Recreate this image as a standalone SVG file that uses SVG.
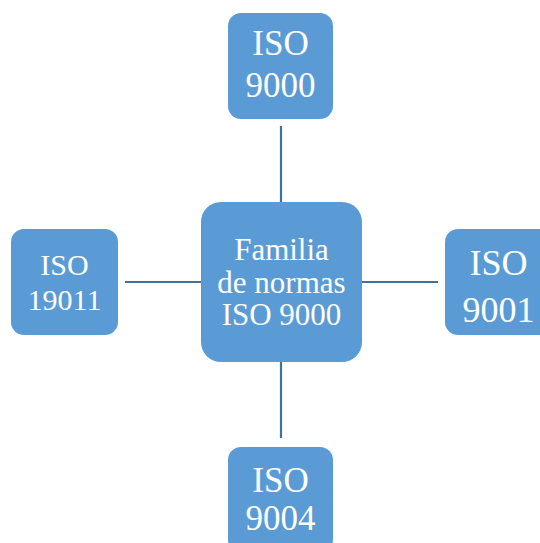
<svg xmlns="http://www.w3.org/2000/svg" width="540" height="543" viewBox="0 0 540 543">
<style>
.box{fill:#5B9BD5;}
.t{fill:#FFFFFF;font-family:"Liberation Serif","Times New Roman",serif;text-anchor:middle;}
.ln{stroke:#41719C;stroke-width:2.2;fill:none;}
</style>
<rect width="540" height="543" fill="#FFFFFF"/>
<g id="connectors">
<line class="ln" x1="281" y1="126" x2="281" y2="202"/>
<line class="ln" x1="281" y1="362" x2="281" y2="438"/>
<line class="ln" x1="125" y1="282" x2="201" y2="282"/>
<line class="ln" x1="362" y1="282" x2="438" y2="282"/>
</g>
<g id="center">
<rect class="box" x="201" y="202" width="161" height="160" rx="20"/>
<text class="t" font-size="31"><tspan x="281.5" y="260">Familia</tspan><tspan x="281.5" y="293">de normas</tspan><tspan x="281.5" y="325">ISO 9000</tspan></text>
</g>
<g id="iso9000">
<rect class="box" x="228" y="13" width="105" height="106" rx="13"/>
<text class="t" font-size="35"><tspan x="280.5" y="55">ISO</tspan><tspan x="280.5" y="97">9000</tspan></text>
</g>
<g id="iso19011">
<rect class="box" x="11" y="229" width="107" height="106" rx="13"/>
<text class="t" font-size="30"><tspan x="64.5" y="275">ISO</tspan><tspan x="64.5" y="310">19011</tspan></text>
</g>
<g id="iso9001">
<rect class="box" x="445" y="229" width="107" height="106" rx="13"/>
<text class="t" font-size="36"><tspan x="498.5" y="275">ISO</tspan><tspan x="498.5" y="322">9001</tspan></text>
</g>
<g id="iso9004">
<rect class="box" x="228" y="447" width="105" height="106" rx="13"/>
<text class="t" font-size="35"><tspan x="280.5" y="492">ISO</tspan><tspan x="280.5" y="530">9004</tspan></text>
</g>
</svg>
